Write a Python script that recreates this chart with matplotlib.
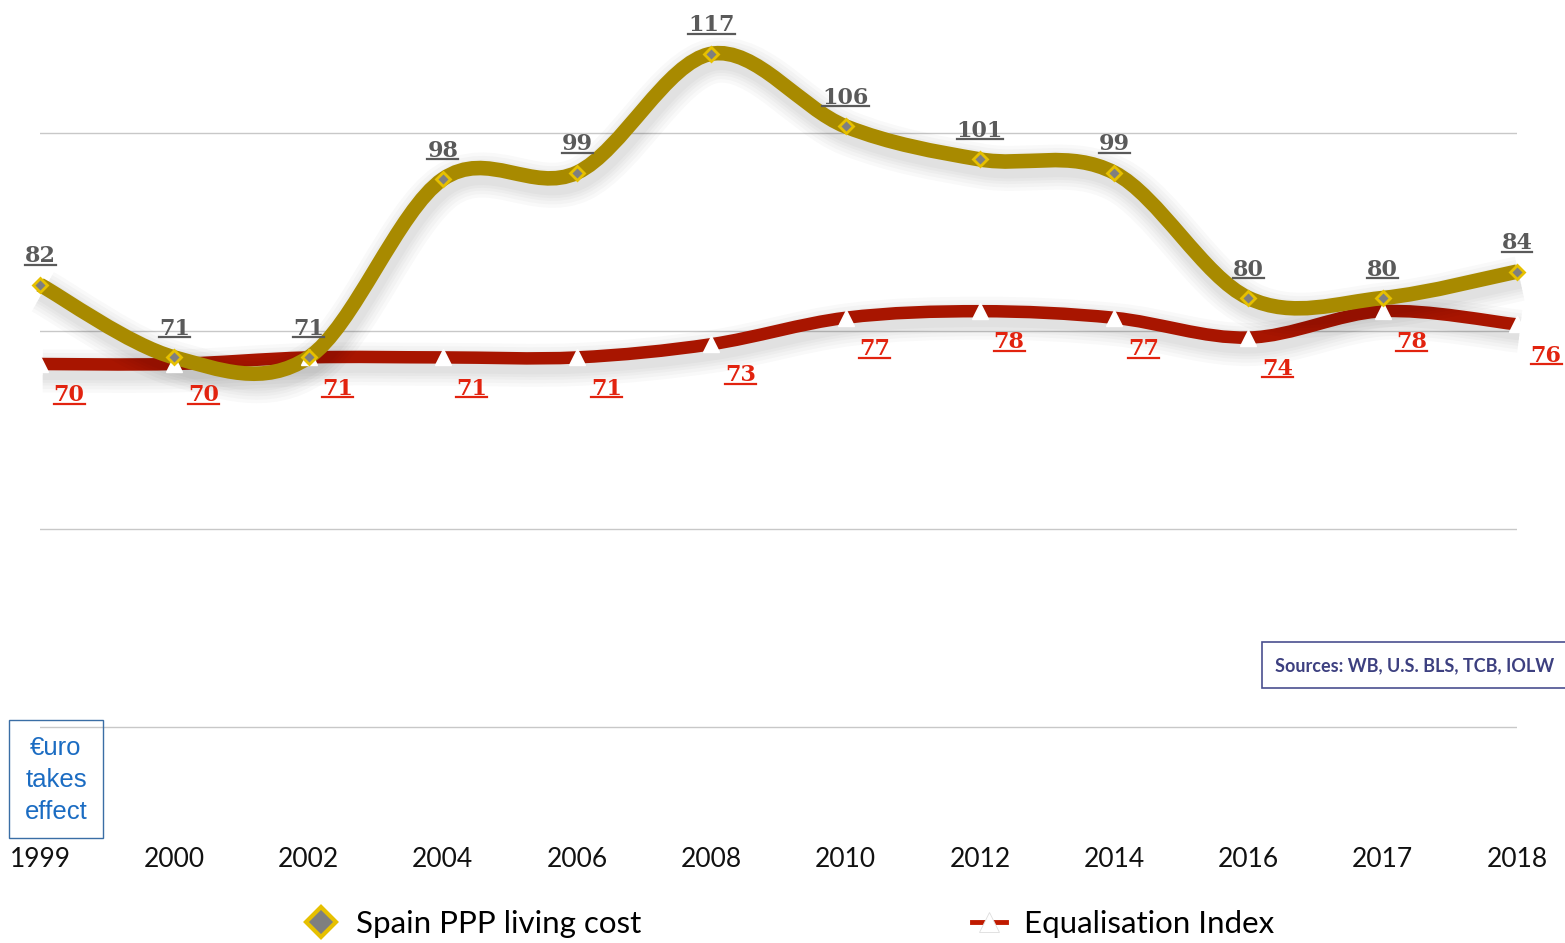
import matplotlib
matplotlib.use('Agg')
import matplotlib.pyplot as plt
import matplotlib.patheffects as pe
from matplotlib.path import Path
from matplotlib.patches import PathPatch, Rectangle
from matplotlib.lines import Line2D
from matplotlib.transforms import IdentityTransform

# data
years = ['1999', '2000', '2002', '2004', '2006', '2008', '2010', '2012', '2014', '2016', '2017', '2018']
ppp_cost = [82, 71, 71, 98, 99, 117, 106, 101, 99, 80, 80, 84]
equal_index = [70, 70, 71, 71, 71, 73, 77, 78, 77, 74, 78, 76]

GOLD = '#a88a00'
RED = '#a81500'
GOLD_TXT = '#5a5a5a'
RED_TXT = '#e2230f'

W, H = 1565, 943
PX_PER_UNIT = 6.6


def smooth_path(xs, ys):
    # excel-like smoothed line as cubic bezier segments
    pts = list(zip(xs, ys))
    n = len(pts)
    verts = [pts[0]]
    codes = [Path.MOVETO]
    for i in range(n - 1):
        p0 = pts[max(i - 1, 0)]
        p1 = pts[i]
        p2 = pts[i + 1]
        p3 = pts[min(i + 2, n - 1)]
        c1 = (p1[0] + (p2[0] - p0[0]) / 6, p1[1] + (p2[1] - p0[1]) / 6)
        c2 = (p2[0] - (p3[0] - p1[0]) / 6, p2[1] - (p3[1] - p1[1]) / 6)
        verts += [c1, c2, p2]
        codes += [Path.CURVE4] * 3
    return Path(verts, codes)


def soft_shadow(lw):
    effects = [pe.SimpleLineShadow(offset=(2, -5), shadow_color='black', alpha=0.022, linewidth=lw + w)
               for w in (22, 17, 12, 8, 4)]
    return effects + [pe.Normal()]


fig = plt.figure(figsize=(W / 100, H / 100), dpi=100)
ax = fig.add_axes([40 / W, 1 - 730 / H, (1517 - 40) / W, 730 / H])
ax.set_xlim(0, len(years) - 1)
ax.set_ylim(15 - 3 / PX_PER_UNIT, 15 + 727 / PX_PER_UNIT)

x = list(range(len(years)))

# red line
red_patch = PathPatch(smooth_path(x, equal_index), fill=False, edgecolor=RED, lw=9,
                      capstyle='butt', zorder=3, clip_on=False)
red_patch.set_path_effects(soft_shadow(9))
ax.add_patch(red_patch)
ax.plot(x, equal_index, ls='none', marker='^', ms=11, mfc='white', mec='white', zorder=5, clip_on=False)

# gold line
gold_patch = PathPatch(smooth_path(x, ppp_cost), fill=False, edgecolor=GOLD, lw=10.5,
                       capstyle='butt', zorder=4, clip_on=False)
gold_patch.set_path_effects(soft_shadow(10.5))
ax.add_patch(gold_patch)
ax.plot(x, ppp_cost, ls='none', marker='D', ms=7, mfc='#7f7f7f', mec='#e6c000', mew=2, zorder=6, clip_on=False)

# value labels
labels = []
for xi, v in zip(x, ppp_cost):
    t = ax.annotate(str(v), (xi, v), xytext=(0, 20.5), textcoords='offset points', ha='center', va='center',
                    fontsize=16, fontweight='bold', family='DejaVu Serif', color=GOLD_TXT, zorder=7)
    labels.append(t)
for xi, v in zip(x, equal_index):
    t = ax.annotate(str(v), (xi, v), xytext=(21, -22.5), textcoords='offset points', ha='center', va='center',
                    fontsize=16, fontweight='bold', family='DejaVu Serif', color=RED_TXT, zorder=7,
                    annotation_clip=False)
    labels.append(t)

# axes styling
ax.set_yticks([15, 45, 75, 105])
ax.grid(axis='y', color='#c8c8c8', lw=1)
ax.set_axisbelow(True)
for s in ax.spines.values():
    s.set_visible(False)
ax.set_xticks(x)
ax.set_xticklabels(years, family='Lato', fontsize=19, color='#111111')
ax.tick_params(axis='x', length=0, pad=84)
ax.tick_params(axis='y', length=0, labelleft=False)

# euro box
fig.add_artist(Rectangle((9 / W, 1 - 838 / H), 94 / W, 118 / H, transform=fig.transFigure,
                         fill=False, ec='#3a6ea5', lw=1))
fig.text(56 / W, 1 - 780 / H, '€uro\ntakes\neffect', ha='center', va='center', fontsize=18.5,
         family='Liberation Sans', color='#1b6cc2', linespacing=1.4)

# sources box
fig.add_artist(Rectangle((1262 / W, 1 - 688 / H), 310 / W, 46 / H, transform=fig.transFigure,
                         fill=True, fc='white', ec='#4a4f8f', lw=1.2))
fig.text(1275 / W, 1 - 666 / H, 'Sources: WB, U.S. BLS, TCB, IOLW', ha='left', va='center',
         fontsize=13, fontweight='bold', family='Lato', color='#3d4080')

# legend
h1 = Line2D([], [], ls='none', marker='D', ms=15, mfc='#7f7f7f', mec='#e6c000', mew=3)
h2 = Line2D([], [], color='#c01a00', lw=3.5, marker='^', ms=15, mfc='white', mec='#dddddd', mew=0.6)
for h, lab, left in [(h1, 'Spain PPP living cost', 304), (h2, 'Equalisation Index', 972)]:
    fig.legend([h], [lab], loc='center left', bbox_to_anchor=(left / W, 1 - 924 / H), frameon=False,
               prop={'family': 'Lato', 'size': 22.5}, borderpad=0, borderaxespad=0,
               handlelength=1.1, handletextpad=0.55)

# underline the value labels
fig.canvas.draw()
r = fig.canvas.get_renderer()
for t in labels:
    bb = t.get_window_extent(r)
    fig.add_artist(Line2D([bb.x0, bb.x1], [bb.y0 + 2.5, bb.y0 + 2.5], transform=IdentityTransform(),
                          color=t.get_color(), lw=1.6, zorder=7))

fig.savefig('out.png', dpi=100, facecolor='white')
